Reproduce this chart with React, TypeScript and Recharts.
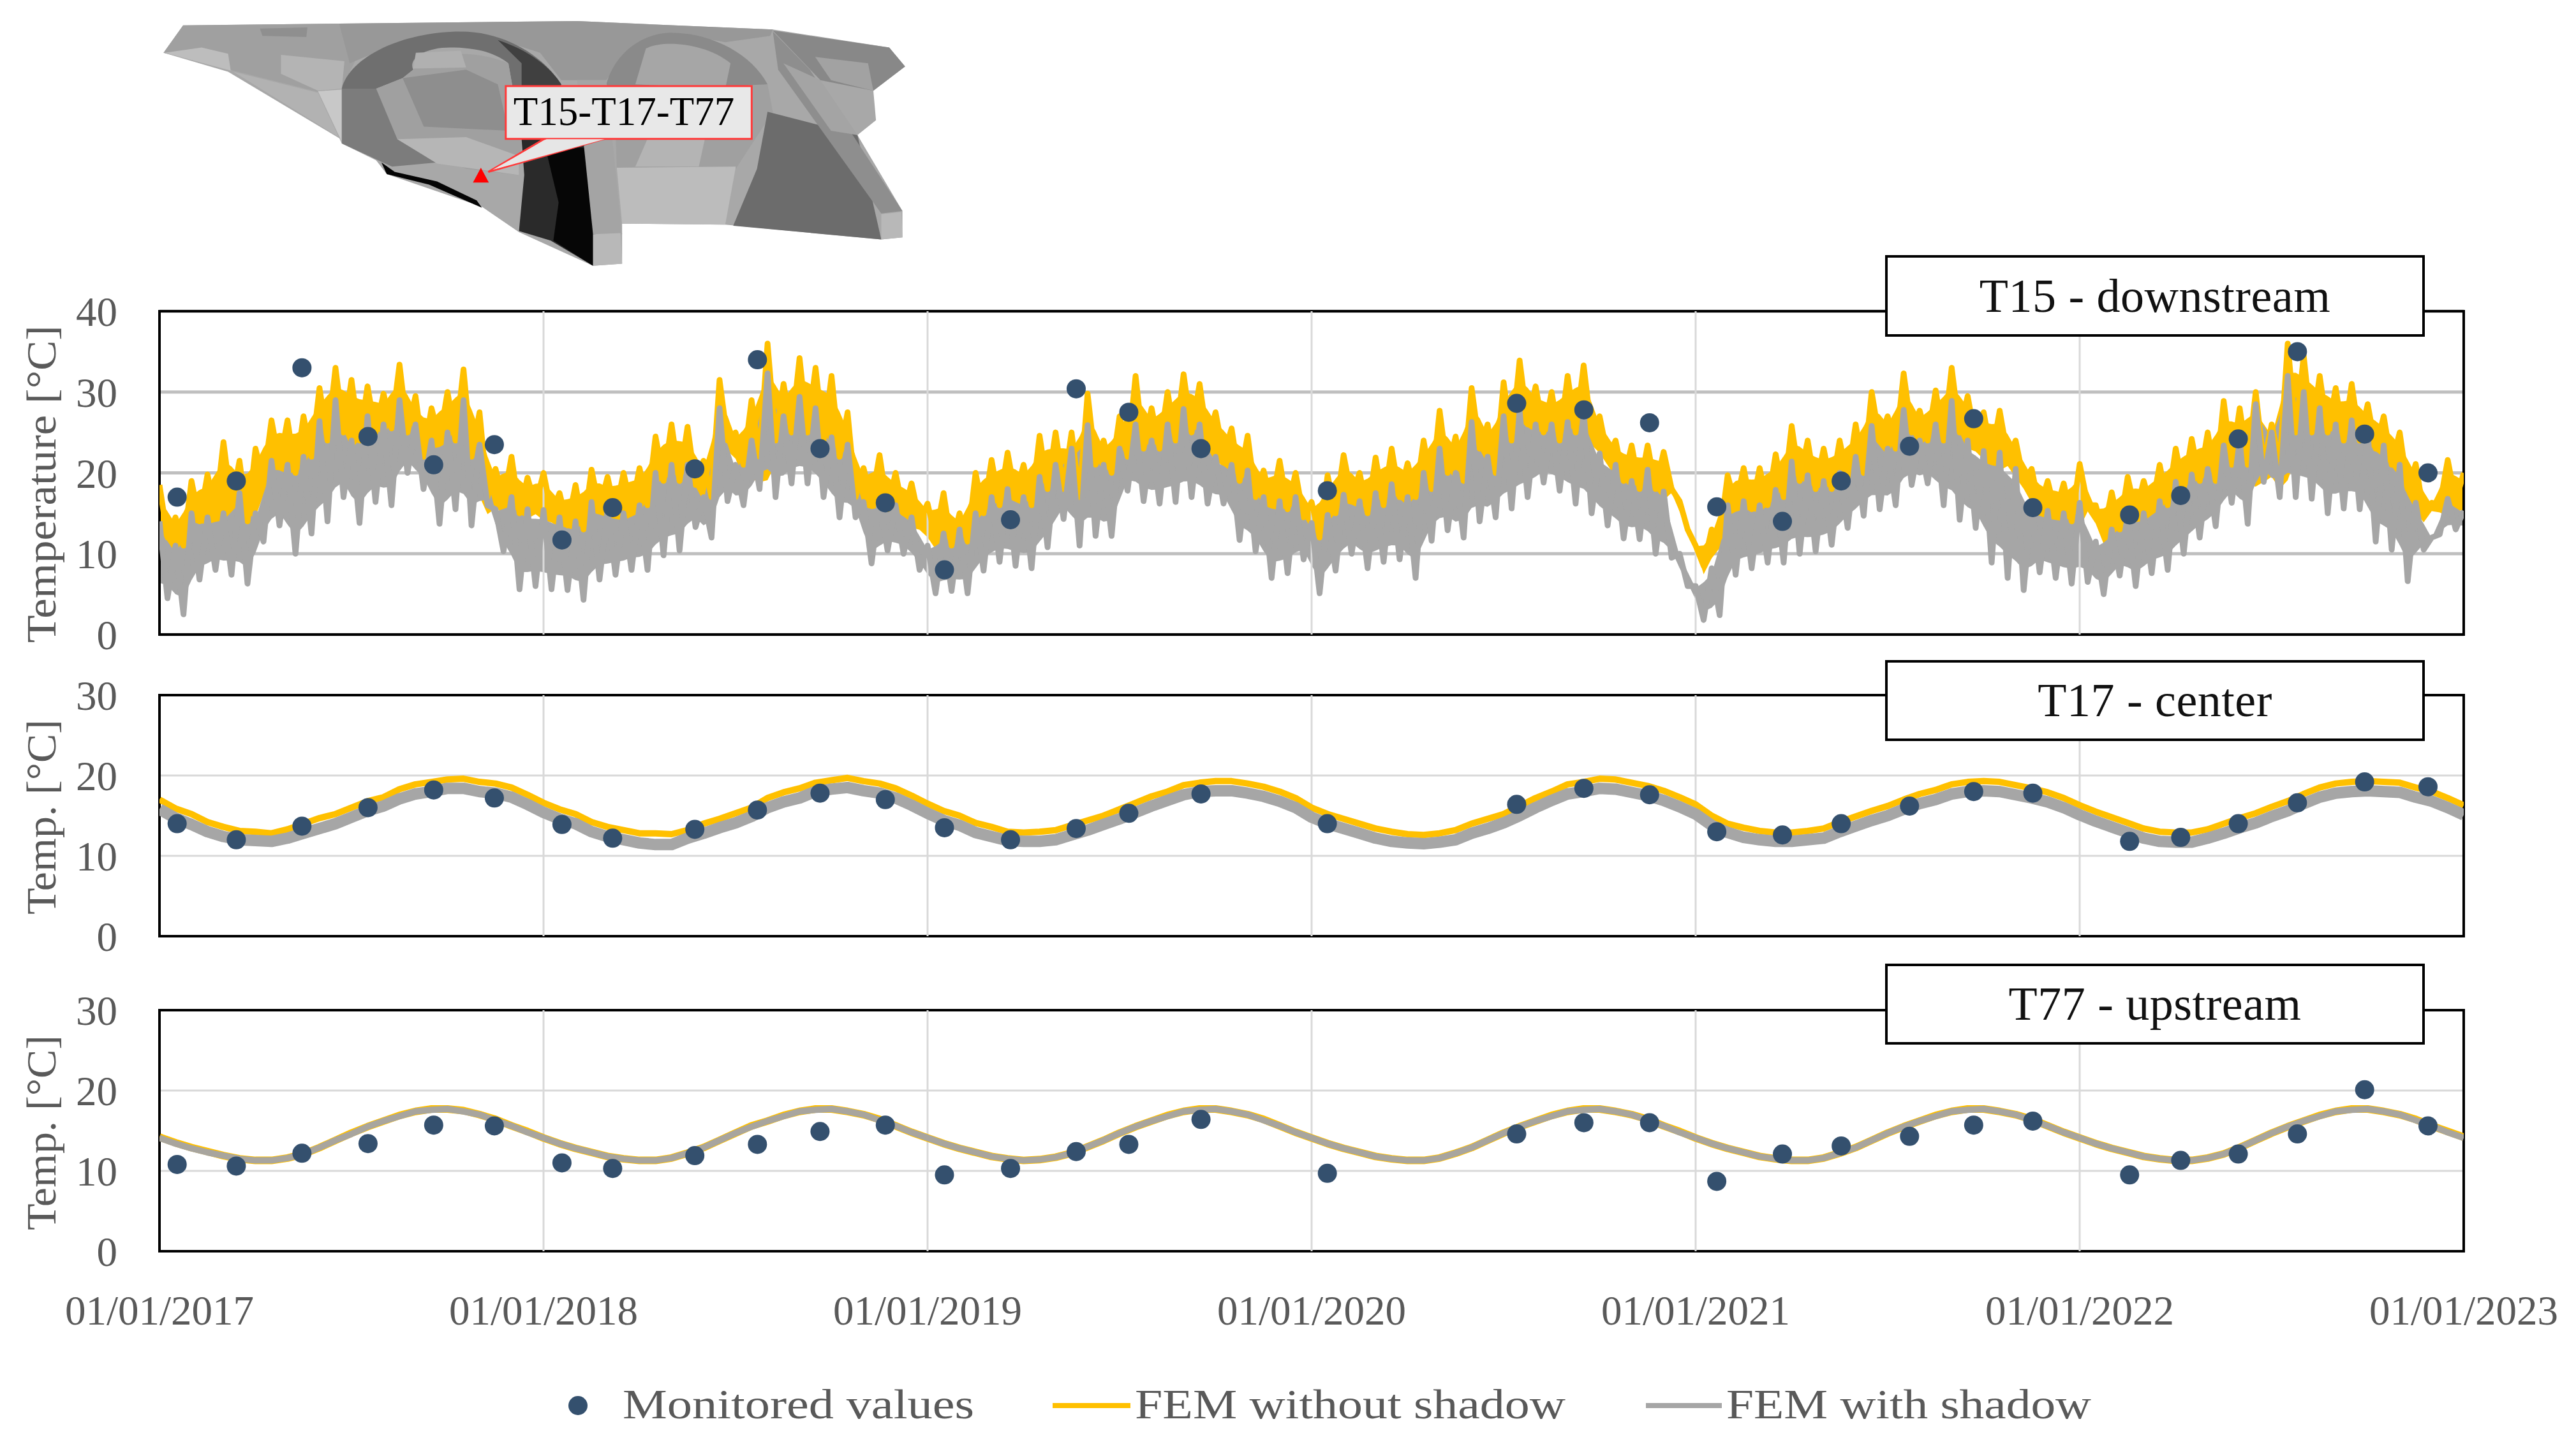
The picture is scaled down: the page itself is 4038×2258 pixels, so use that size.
import React from 'react';
import { ComposedChart, Line, Area, Scatter, XAxis, YAxis, CartesianGrid, ReferenceArea, ReferenceLine } from 'recharts';

const yearTicks = [2017, 2018, 2019, 2020, 2021, 2022, 2023];
const START_YEAR = 2017;

// Sampling dates of the monitored values, as fractional years
const monitoredYears = [2017.046,2017.2,2017.371,2017.543,2017.714,2017.872,2018.048,2018.18,2018.394,2018.557,2018.72,2018.89,2019.044,2019.216,2019.387,2019.524,2019.712,2020.041,2020.534,2020.709,2020.88,2021.055,2021.226,2021.379,2021.557,2021.724,2021.878,2022.13,2022.263,2022.413,2022.567,2022.742,2022.907];
const monitoredT15 = [17,19,33,24.5,21,23.5,11.7,15.7,20.5,34,23,16.3,8,14.2,30.4,27.5,23,17.8,28.6,27.8,26.2,15.8,14,19,23.3,26.7,15.7,14.8,17.2,24.2,35,24.8,20];
const monitoredT17 = [14,12,13.7,16,18.2,17.2,13.9,12.2,13.3,15.7,17.8,17,13.5,12,13.4,15.3,17.7,14,16.4,18.4,17.6,13,12.6,14,16.2,18,17.8,11.8,12.3,14,16.6,19.2,18.6];
const monitoredT77 = [10.8,10.6,12.2,13.4,15.7,15.6,11,10.3,11.9,13.3,14.9,15.7,9.5,10.3,12.4,13.3,16.4,9.7,14.6,16,16,8.7,12.1,13.1,14.3,15.7,16.2,9.5,11.3,12.1,14.6,20.1,15.6];

// T15: FEM series read every 1/48 of a year (alternating upper and lower envelope)
const t15NoShadow = [
  18.5,12,14.5,11,19,14,19.8,15,23.8,16,21.5,14,23,19,26.5,21,26.5,20,27,22,30.5,24,33,25,31.5,24,30.7,25,29.8,25.5,33.4,25,29.5,22,28,24,30,24,32.8,22,27.5,17,20.5,16.5,22,15,19.4,16,
  20,15,17.5,13.5,18.5,13,20.4,15.5,19.5,15,20,15.5,20.6,16,24.5,19,26,19,25.7,18.5,21.5,17,31.5,24,25,21,29,22,36,24,31,25,34.2,25,33,24,32,22,27.5,17,20.6,16.5,22.2,15.5,20,15,18.7,14,
  16.2,12,17.5,11,15,11.5,20,15,21.6,16,22.5,17,21,16,24.6,18,25,18,25,17,29.8,21,24,20,27,22,32,23,28,23,30,24,32.2,25,31,24,27.5,22,25.5,19,24.6,17,20.3,16,21.5,15.5,20,14.5,
  16.4,12,19.7,15,22.2,17,20,15,21.9,16,23,17,21.2,17,24,18,27.7,20,24.5,19,30.5,23,26,20,31.2,24,33.9,26,30.7,25,30,24,32,25,33.3,25,27,22,24,19,23.4,18,23.4,18,22.6,18,16.5,13,
  11,8.5,13,12,19.7,16,20.6,15.5,20.6,16,22.3,17,25.8,19,24,18,23,18,24,19,26,20,30,24,27,23,32.3,25,27.7,24,30.2,24,33,25,29.5,24,27.5,22,27.7,22,24,19,20.5,15.5,19,15,18.7,14,
  21.1,16,16,12.5,17.6,13,19.5,15,19,15.5,21,16,23,18,24.2,19,25,19,28.9,21,28,21,30,21,26,21,36,25,34.5,25,32,25,30.5,24,31,24,28.5,23,27,21,25,18,21.1,15,16.3,16,21.6,16.5,20
];
const t15WithShadow = [
  14,4.5,11,2.5,15,6.8,14.5,8,15,7.4,17.5,6.3,15,11.5,21.5,13.5,21,10,22,12.5,26.4,14,29,17,24,13.8,27,16.4,26,16,29,20,26,18,24,13.7,25,15.5,29,13.5,23.5,16,15.5,10.3,17,5.6,15.5,6,
  15.4,5.6,14.5,5.5,14,4.3,16.4,6.8,15.5,7.4,15,8,16,8,20,9.8,21,10.4,21,13.3,17,12,28,16.5,21,16,24,18,32.3,17,27,18.7,29.4,18.7,28,17,24.4,14.5,23.5,14.5,16.4,8.8,16.5,10.4,16,10,14.5,8,
  11,5.1,12.5,5.4,13,5.1,15,7.9,17,9,18,8.5,17,8.2,19.5,10.8,21,14.3,23,11,25.9,12.2,21,12.2,23,17.8,26,16.5,24,16.2,26,16.4,27.9,17,26,16.2,22,16.2,21,11.7,20.3,10.3,17,7,16.5,7.6,17,9.3,
  13.8,5.1,14.8,7.9,17.3,10,16.5,8.2,17.5,9,18.6,9.3,17,7,20,11.6,23,12.9,20,12,26.3,14,22,14.5,27,15.6,27.7,17,26,18.8,26,17.8,26.3,16.2,27.7,15,22.4,13.5,21,11.9,19,11.8,20.4,10,17.7,9.5,10,6,
  6,1.8,8.2,2.4,16,7.4,16.5,8.2,16,8.9,17.9,8.9,21.4,10,19.7,10.3,19,11.1,20,13.2,22,14.7,25.8,15.5,23,16,27.8,18.5,24,18.7,26,16,28.9,14.2,24,13.2,22.7,8.9,22.5,7,20.5,5.5,16,7.7,15.3,7,15,6.3,
  16.3,6.5,11.5,5,13,7.3,15,6,15,7.6,16.5,8,18.9,10,19.8,12,20.5,13.4,23.4,16.3,24,13.7,28.5,18.9,25,17,32,17,30,16.8,28,15,26,15.6,26.5,15.5,25,11.5,23.4,10.5,21,6.6,16.3,10.5,12,12.4,16.8,13,15.3
];

// T17: FEM series read every 1/24 of a year
const t17NoShadow = [
  17,15.9,15.2,14.2,13.6,13.1,13,12.8,13.3,14,14.7,15.2,16,16.8,17.3,18.3,18.9,19.2,19.5,19.6,19.2,19,18.5,17.6,
  16.6,15.8,15.2,14.2,13.6,13.2,12.8,12.8,12.7,13.2,14,14.6,15.3,16,17.2,17.9,18.4,19.1,19.4,19.7,19.3,19,18.4,17.5,
  16.5,15.6,15,14.1,13.6,13,12.9,13,13.2,13.8,14.4,15,15.8,16.6,17.4,18,18.8,19.1,19.3,19.3,19,18.6,18,17.2,
  16,15.2,14.6,14,13.4,13,12.7,12.6,12.8,13.2,14,14.6,15.2,16.2,17.2,18,18.9,19.2,19.6,19.5,19.1,18.7,18.1,17.3,
  16.4,15,14,13.5,13.1,12.9,12.9,13.1,13.4,14.2,14.9,15.6,16.2,17,17.7,18.2,18.9,19.2,19.3,19.2,18.8,18.4,17.9,17.2,
  16.3,15.5,14.8,14.1,13.4,13,12.9,12.9,13.3,14,14.7,15.3,16.1,16.8,17.7,18.5,19,19.2,19.3,19.2,19.1,18.5,18,17.2,16.3
];
const t17WithShadow = [
  15.8,14.7,13.9,13,12.4,12,11.9,11.8,12.2,12.8,13.4,14,14.8,15.6,16.2,17.1,17.7,18,18.4,18.4,18,17.8,17.3,16.4,
  15.4,14.6,14,13,12.4,12,11.6,11.4,11.4,12.2,12.8,13.5,14.1,14.9,16,16.7,17.2,18,18.3,18.5,18.1,17.8,17.2,16.3,
  15.3,14.4,13.8,12.9,12.4,11.9,11.8,11.8,12,12.6,13.2,13.9,14.6,15.4,16.2,16.9,17.6,18,18.1,18.1,17.8,17.4,16.8,16,
  14.8,14,13.4,12.8,12.2,11.8,11.6,11.5,11.7,12,12.8,13.4,14.1,15,16,16.9,17.7,18,18.4,18.3,17.9,17.5,16.9,16.1,
  15.2,13.8,12.9,12.3,12,11.8,11.8,12,12.2,13,13.7,14.4,15,15.8,16.5,17,17.7,18,18.1,18,17.6,17.2,16.7,16,
  15.1,14.3,13.6,12.9,12.2,11.8,11.7,11.7,12.2,12.8,13.5,14.1,14.9,15.6,16.5,17.3,17.8,18,18.1,18,17.9,17.3,16.8,16,15.1
];

// T77: FEM series read every 1/24 of a year
const t77NoShadow = [
  14.2,13.5,12.9,12.4,11.9,11.5,11.3,11.3,11.6,12.1,12.9,13.8,14.7,15.5,16.2,16.9,17.4,17.7,17.7,17.5,17,16.4,15.6,14.9,
  14.1,13.4,12.8,12.3,11.8,11.5,11.3,11.3,11.6,12.2,12.9,13.8,14.7,15.6,16.2,16.9,17.4,17.7,17.7,17.4,17,16.4,15.6,14.8,
  14.1,13.4,12.8,12.3,11.8,11.5,11.3,11.4,11.7,12.2,13,13.8,14.7,15.5,16.2,16.9,17.4,17.7,17.7,17.4,17,16.4,15.6,14.8,
  14.1,13.4,12.8,12.3,11.8,11.5,11.3,11.3,11.6,12.2,12.9,13.8,14.7,15.5,16.2,16.9,17.4,17.7,17.7,17.4,17,16.4,15.6,14.9,
  14.1,13.4,12.8,12.3,11.8,11.5,11.3,11.3,11.6,12.2,12.9,13.8,14.7,15.5,16.2,16.9,17.4,17.7,17.7,17.4,17,16.4,15.6,14.8,
  14.1,13.4,12.8,12.3,11.8,11.5,11.3,11.3,11.6,12.1,12.9,13.8,14.7,15.5,16.2,16.9,17.4,17.7,17.7,17.4,17,16.4,15.6,14.9,14.2
];
const t77WithShadow = [
  14.1,13.4,12.8,12.3,11.9,11.5,11.3,11.3,11.6,12.1,12.9,13.8,14.6,15.5,16.2,16.8,17.4,17.6,17.7,17.4,17,16.3,15.6,14.8,
  14.1,13.4,12.8,12.3,11.8,11.5,11.3,11.3,11.6,12.2,12.9,13.8,14.7,15.5,16.2,16.8,17.4,17.6,17.7,17.4,17,16.3,15.6,14.8,
  14.1,13.4,12.8,12.3,11.8,11.5,11.3,11.4,11.7,12.2,13,13.8,14.7,15.5,16.2,16.8,17.4,17.6,17.7,17.4,17,16.3,15.6,14.8,
  14.1,13.4,12.8,12.3,11.8,11.5,11.3,11.3,11.6,12.2,12.9,13.8,14.7,15.5,16.2,16.8,17.4,17.6,17.7,17.4,17,16.3,15.6,14.8,
  14.1,13.4,12.8,12.3,11.8,11.5,11.3,11.3,11.6,12.2,12.9,13.8,14.7,15.5,16.2,16.8,17.4,17.6,17.7,17.4,17,16.3,15.6,14.8,
  14.1,13.4,12.8,12.3,11.8,11.5,11.3,11.3,11.6,12.1,12.9,13.8,14.7,15.5,16.2,16.8,17.4,17.6,17.7,17.4,17,16.3,15.6,14.8,14.1
];

const SERIF = '"Liberation Serif", serif';
const TEXT_GREY = '#595959';
const YELLOW = '#FFC000';
const GREY = '#A6A6A6';
const DOT = '#34506E';

const rows = (vals: number[], perYear: number) => vals.map((y, i) => ({ x: START_YEAR + i / perYear, y }));
const points = (vals: number[]) => vals.map((y, i) => ({ x: monitoredYears[i], y }));

// The dense daily trace fills the space between its own peaks and troughs: band between the read values.
const bandRows = (vals: number[], perYear: number, lowFrac: number, highFrac: number) => vals.map((v, i) => {
  const prev = vals[i - 1] ?? vals[i + 1];
  const next = vals[i + 1] ?? vals[i - 1];
  const nb = (prev + next) / 2;
  const hi = Math.max(v, nb);
  const lo = Math.min(v, nb);
  return { x: START_YEAR + i / perYear, band: [lo + lowFrac * (hi - lo), lo + highFrac * (hi - lo)] };
});

const dotShape = (p: any) => <circle cx={p.cx} cy={p.cy} r={15} fill={DOT} />;

function Panel(props: {
  top: number; height: number; marginTop: number; marginBottom: number; yMax: number; yTicks: number[];
  title: string; titleLen: number; titleCenter: number; noShadow: any[]; withShadow: any[]; monitored: any[];
  yellowW: number; greyW: number; gridColor: string; gridW: number; showX?: boolean; greyColor?: string;
  noShadowBand?: any[]; withShadowBand?: any[];
}) {
  const { top, height, marginTop, marginBottom, yMax, yTicks, title, titleLen, titleCenter, noShadow, withShadow, monitored, yellowW, greyW, gridColor, gridW, showX, greyColor, noShadowBand, withShadowBand } = props;
  return (
    <div style={{ position: 'absolute', left: 0, top }}>
      <ComposedChart width={4038} height={height} margin={{ top: marginTop, right: 176, bottom: marginBottom, left: 100 }}>
        <CartesianGrid horizontal={true} vertical={false} stroke={gridColor} strokeWidth={gridW} />
        <XAxis
          dataKey="x" type="number" domain={[2017, 2023]} ticks={yearTicks} interval={0} allowDataOverflow
          axisLine={false} tickLine={false} tickSize={0}
          height={showX ? 90 : 0} tickMargin={showX ? 69 : 0}
          tick={showX ? { fontFamily: SERIF, fontSize: 65, fill: TEXT_GREY } : false}
          tickFormatter={(v: number) => `01/01/${v}`}
        />
        <YAxis
          dataKey="y" type="number" domain={[0, yMax]} ticks={yTicks} width={150} interval={0} allowDataOverflow
          axisLine={false} tickLine={false} tickSize={0} tickMargin={66}
          tick={{ fontFamily: SERIF, fontSize: 65, fill: TEXT_GREY }}
          label={{
            content: () => (
              <text transform={`translate(87,${titleCenter - top}) rotate(-90)`} textAnchor="middle" fontFamily={SERIF} fontSize={65} fill={TEXT_GREY} textLength={titleLen} lengthAdjust="spacingAndGlyphs">{title}</text>
            ),
          }}
        />
        {yearTicks.slice(1, -1).map((yr) => <ReferenceLine key={yr} x={yr} stroke="#D9D9D9" strokeWidth={3} />)}
        {noShadowBand ? <Area data={noShadowBand} dataKey="band" fill={YELLOW} fillOpacity={1} stroke="none" dot={false} activeDot={false} legendType="none" isAnimationActive={false} /> : null}
        <Line data={noShadow} dataKey="y" name="FEM without shadow" stroke={YELLOW} strokeWidth={yellowW} dot={false} isAnimationActive={false} strokeLinejoin="round" />
        {withShadowBand ? <Area data={withShadowBand} dataKey="band" fill={greyColor || GREY} fillOpacity={1} stroke="none" dot={false} activeDot={false} legendType="none" isAnimationActive={false} /> : null}
        <Line data={withShadow} dataKey="y" name="FEM with shadow" stroke={greyColor || GREY} strokeWidth={greyW} dot={false} isAnimationActive={false} strokeLinejoin="round" />
        <Scatter data={monitored} name="Monitored values" fill={DOT} shape={dotShape} isAnimationActive={false} />
        <ReferenceArea x1={2017} x2={2023} y1={0} y2={yMax} fill="none" stroke="#000" strokeWidth={4} ifOverflow="visible" />
      </ComposedChart>
    </div>
  );
}

function TitleBox({ top, height, text }: { top: number; height: number; text: string }) {
  return (
    <div style={{
      position: 'absolute', left: 2955, top, width: 846, height, boxSizing: 'border-box', background: '#fff',
      border: '4px solid #000', display: 'flex', alignItems: 'center', justifyContent: 'center',
      fontFamily: SERIF, fontSize: 74, color: '#111', letterSpacing: 0.5, whiteSpace: 'nowrap',
    }}>{text}</div>
  );
}

const modelShapes: [string, string][] = [
  ['M105,120 L850,100 L1220,140 L1440,225 L1470,315 L1410,430 L1415,570 L1380,640 L1465,1000 L1465,1125 L1425,1135 L1130,1065 L935,1060 L935,1250 L880,1260 L740,1100 L670,980 L490,825 L470,760 L190,340 L68,250 Z', '#a8a8a8'],
  ['M105,120 L400,112 L430,290 L405,420 L360,435 L200,335 L68,250 Z', '#a0a0a0'],
  ['M140,225 L190,255 L195,335 L70,250 Z', '#bdbdbd'],
  ['M250,135 L340,130 L338,175 L255,170 Z', '#8f8f8f'],
  ['M200,340 L360,440 L405,680 L470,760 Z', '#b2b2b2'],
  ['M360,432 L405,425 L405,672 Z', '#c8c8c8'],
  ['M290,260 L410,290 L405,420 L360,430 L290,350 Z', '#b4b4b4'],
  ['M850,100 L1220,140 L1215,170 L1130,200 L1030,155 L950,230 L905,380 L820,380 L780,250 L680,170 L630,150 L540,175 L420,300 L400,112 Z', '#989898'],
  ['M405,420 C420,270 520,150 630,150 C720,150 790,280 820,400 L745,660 L720,300 C690,240 650,225 610,225 C560,225 530,280 540,330 L520,370 L470,420 Z', '#6f6f6f'],
  ['M700,190 C760,240 800,320 820,400 L790,660 L745,660 L745,300 Z', '#404040'],
  ['M470,420 L520,370 L540,330 C560,250 650,225 720,300 L745,660 L740,830 L640,800 L510,660 Z', '#a0a0a0'],
  ['M520,370 L640,330 L700,400 L720,620 L560,600 Z', '#8e8e8e'],
  ['M545,250 L630,240 L640,320 L540,325 Z', '#b0b0b0'],
  ['M405,420 L470,420 L510,660 L585,770 L500,790 L405,680 Z', '#7c7c7c'],
  ['M510,660 L640,650 L740,740 L740,830 L585,775 Z', '#b6b6b6'],
  ['M905,400 C920,260 970,155 1030,155 C1110,160 1180,260 1210,400 L1090,450 L920,430 Z', '#8a8a8a'],
  ['M980,230 C1010,190 1090,200 1140,300 L1130,420 L960,400 Z', '#a6a6a6'],
  ['M920,430 L1210,400 L1220,530 L1150,800 L925,800 Z', '#a0a0a0'],
  ['M1000,560 L1100,560 L1080,790 L960,790 Z', '#b4b4b4'],
  ['M925,795 L1150,790 L1130,1065 L935,1060 Z', '#bcbcbc'],
  ['M1210,530 L1380,640 L1425,1135 L1145,1070 L1190,800 Z', '#6c6c6c'],
  ['M1220,150 L1290,330 L1465,1000 L1425,1012 L1230,330 Z', '#8e8e8e'],
  ['M1240,300 L1310,380 L1380,640 L1330,620 Z', '#a4a4a4'],
  ['M1220,145 L1440,225 L1470,315 L1410,430 L1310,380 Z', '#888888'],
  ['M1300,270 L1400,300 L1410,430 L1330,380 Z', '#a2a2a2'],
  ['M745,660 L905,660 L880,1260 L800,1140 L740,1095 L750,830 Z', '#2a2a2a'],
  ['M790,700 L880,700 L880,1260 L805,1140 L815,960 Z', '#060606'],
  ['M850,380 L905,380 L935,1110 L880,1110 Z', '#a4a4a4'],
  ['M880,1110 L932,1105 L935,1250 L880,1260 Z', '#b8b8b8'],
  ['M1425,1015 L1463,1005 L1465,1125 L1425,1135 Z', '#b8b8b8'],
  ['M480,770 L490,825 L570,875 L670,985 L660,950 L585,860 L505,815 Z', '#050505'],
];

function BridgeModel() {
  return (
    <svg width={1300} height={440} viewBox="0 0 1568 1330" preserveAspectRatio="none" style={{ position: 'absolute', left: 200, top: 0 }}>
      {modelShapes.map(([d, c], i) => <path key={i} d={d} fill={c} />)}
      <polygon points="790,655 682,815 905,655" fill="#e6e6e6" stroke="#ff3a3a" strokeWidth={3} vectorEffect="non-scaling-stroke" />
      <rect x={715} y={408} width={465} height={250} fill="#e8e8e8" stroke="#ff3a3a" strokeWidth={3} vectorEffect="non-scaling-stroke" />
      <polygon points="792,660 690,805 902,660" fill="#e6e6e6" />
      <polygon points="668,795 653,865 683,865" fill="#ff0000" />
    </svg>
  );
}

function LegendRow() {
  const t = { fontFamily: SERIF, fontSize: 66, fill: TEXT_GREY };
  return (
    <svg width={4038} height={120} style={{ position: 'absolute', left: 0, top: 2138 }}>
      <circle cx={906} cy={66} r={15} fill={DOT} />
      <text x={976} y={86} {...t} textLength={551} lengthAdjust="spacingAndGlyphs">Monitored values</text>
      <line x1={1650} x2={1772} y1={66} y2={66} stroke={YELLOW} strokeWidth={8} />
      <text x={1779} y={86} {...t} textLength={675} lengthAdjust="spacingAndGlyphs">FEM without shadow</text>
      <line x1={2580} x2={2699} y1={66} y2={66} stroke={GREY} strokeWidth={8} />
      <text x={2706} y={86} {...t} textLength={572} lengthAdjust="spacingAndGlyphs">FEM with shadow</text>
    </svg>
  );
}

export default function App() {
  return (
    <div style={{ position: 'absolute', left: 0, top: 0, width: 4038, height: 2258, background: '#fff', overflow: 'hidden' }}>
      <BridgeModel />
      <div style={{ position: 'absolute', left: 778, top: 139, width: 400, textAlign: 'center', fontFamily: SERIF, fontSize: 63, color: '#000', whiteSpace: 'nowrap' }}>T15-T17-T77</div>

      <Panel top={440} height={600} marginTop={48} marginBottom={45} yMax={40} yTicks={[0, 10, 20, 30, 40]}
        title="Temperature [°C]" titleLen={498} titleCenter={759}
        noShadow={rows(t15NoShadow, 48)} withShadow={rows(t15WithShadow, 48)} monitored={points(monitoredT15)}
        noShadowBand={bandRows(t15NoShadow, 48, -0.3, 0.72)} withShadowBand={bandRows(t15WithShadow, 48, 0.2, 0.88)}
        yellowW={9} greyW={9} gridColor="#BFBFBF" gridW={5} />
      <Panel top={1040} height={470} marginTop={50} marginBottom={42} yMax={30} yTicks={[0, 10, 20, 30]}
        title="Temp. [°C]" titleLen={306} titleCenter={1281}
        noShadow={rows(t17NoShadow, 24)} withShadow={rows(t17WithShadow, 24)} monitored={points(monitoredT17)}
        yellowW={10} greyW={18} gridColor="#D9D9D9" gridW={3} />
      <Panel top={1534} height={620} marginTop={50} marginBottom={102} yMax={30} yTicks={[0, 10, 20, 30]}
        title="Temp. [°C]" titleLen={306} titleCenter={1776}
        noShadow={rows(t77NoShadow, 24)} withShadow={rows(t77WithShadow, 24)} monitored={points(monitoredT77)}
        yellowW={12} greyW={10} gridColor="#D9D9D9" gridW={3} showX greyColor="#A8A59E" />

      <TitleBox top={400} height={128} text="T15 - downstream" />
      <TitleBox top={1035} height={127} text="T17 - center" />
      <TitleBox top={1511} height={127} text="T77 - upstream" />
      <LegendRow />
    </div>
  );
}
